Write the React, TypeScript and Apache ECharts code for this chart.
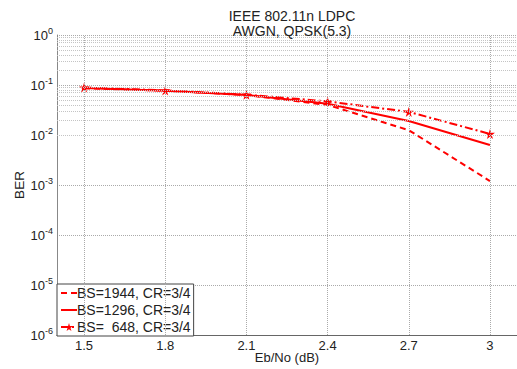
import React, { useEffect, useRef } from "react";
import * as echarts from "echarts";

const ebNo = [1.5, 1.8, 2.1, 2.4, 2.7, 3];
const xTicks = [1.5, 1.8, 2.1, 2.4, 2.7, 3];
const ber1944 = [0.086, 0.077, 0.063, 0.04, 0.0125, 0.0012];
const ber1296 = [0.087, 0.077, 0.063, 0.042, 0.019, 0.0063];
const ber648 = [0.089, 0.078, 0.064, 0.047, 0.029, 0.0105];
const seriesNames = ["BS=1944, CR=3/4", "BS=1296, CR=3/4", "BS=  648, CR=3/4"];
const titleLines = ["IEEE 802.11n LDPC", "AWGN, QPSK(5.3)"];
const decadeExps = [-6, -5, -4, -3, -2, -1];
const minorMult = [2, 3, 4, 5, 6, 7, 8, 9];

const RED = "#ff0000";
const STAR =
  "path://M50,0 L61,35 L98,35 L68,57 L79,91 L50,70 L21,91 L32,57 L2,35 L39,35 Z";

export default function App() {
  const ref = useRef<HTMLDivElement>(null);
  useEffect(() => {
    if (!ref.current) return;
    const chart = echarts.init(ref.current, null, { renderer: "svg" });
    const minorVals: number[] = [];
    decadeExps.forEach((e) => minorMult.forEach((m) => minorVals.push(m * Math.pow(10, e))));
    const pairs = (ys: number[]) => ebNo.map((x, i) => [x, ys[i]]);
    const font = "Liberation Sans, Arial, sans-serif";
    chart.setOption({
      animation: false,
      backgroundColor: "#ffffff",
      title: {
        text: titleLines.join("\n"),
        left: 287,
        textAlign: "center",
        top: 3,
        textStyle: { fontSize: 14, fontWeight: "normal", color: "#222", fontFamily: font, lineHeight: 15 },
      },
      grid: { left: 57, right: 0, top: 35, bottom: 34, outerBoundsMode: "none", containLabel: false },
      xAxis: {
        type: "value",
        min: 1.4,
        max: 3.1,
        interval: 0.1,
        name: "Eb/No (dB)",
        nameLocation: "middle",
        nameGap: 15,
        nameMoveOverlap: false,
        nameTextStyle: { fontSize: 13, color: "#222", fontFamily: font, lineHeight: 14 },
        axisLine: { show: true, lineStyle: { color: "#666", width: 1 } },
        axisTick: { show: false },
        splitLine: { show: false },
        axisLabel: {
          margin: 4,
          fontSize: 13,
          color: "#222",
          fontFamily: font,
          formatter: (v: number) =>
            xTicks.some((t) => Math.abs(t - v) < 1e-6) ? String(Math.round(v * 10) / 10) : "",
        },
      },
      yAxis: {
        type: "log",
        logBase: 10,
        min: 1e-6,
        max: 1,
        interval: 1,
        name: "BER",
        nameLocation: "middle",
        nameGap: 31,
        nameMoveOverlap: false,
        nameTextStyle: { fontSize: 13.5, color: "#222", fontFamily: font },
        axisLine: { show: true, lineStyle: { color: "#888", width: 1 } },
        axisTick: { show: false },
        minorTick: { show: false },
        splitLine: { show: true, lineStyle: { color: "#aaa", type: [1, 1], width: 1 } },
        axisLabel: {
          margin: 4,
          fontSize: 13,
          color: "#222",
          fontFamily: font,
          formatter: (v: number) => `10{s|${Math.round(Math.log10(v))}}`,
          rich: {
            s: { fontSize: 9, verticalAlign: "top", padding: [0, 0, 8, 0], color: "#222", fontFamily: font },
          },
        },
      },
      legend: {
        data: [
          { name: seriesNames[0], itemStyle: { opacity: 0 } },
          { name: seriesNames[1], itemStyle: { opacity: 0 } },
          { name: seriesNames[2] },
        ],
        orient: "vertical",
        left: 57,
        bottom: 33,
        itemWidth: 16,
        itemHeight: 10,
        itemGap: 3,
        padding: [2, 3, 2, 3],
        borderColor: "#444",
        borderWidth: 1,
        backgroundColor: "#fff",
        textStyle: { fontSize: 14, color: "#222", fontFamily: font, padding: [0, 0, 0, -5] },
      },
      series: [
        {
          type: "line",
          name: "__grid",
          data: [],
          silent: true,
          z: 0,
          markLine: {
            silent: true,
            symbol: ["none", "none"],
            label: { show: false },
            animation: false,
            data: [
              ...minorVals.map((v) => ({ yAxis: v, lineStyle: { color: "#c4c4c4", type: [1, 1], width: 1 } })),
              ...xTicks.map((v) => ({ xAxis: v, lineStyle: { color: "#aaa", type: [1, 1], width: 1 } })),
            ],
          },
        },
        {
          type: "line",
          name: seriesNames[0],
          data: pairs(ber1944),
          symbol: "none",
          lineStyle: { color: RED, width: 2, type: [6, 4] },
          itemStyle: { color: RED },
          z: 3,
        },
        {
          type: "line",
          name: seriesNames[1],
          data: pairs(ber1296),
          symbol: "none",
          lineStyle: { color: RED, width: 2, type: "solid" },
          itemStyle: { color: RED },
          z: 3,
        },
        {
          type: "line",
          name: seriesNames[2],
          data: pairs(ber648),
          symbol: STAR,
          symbolSize: 10,
          lineStyle: { color: RED, width: 2, type: [8, 3, 2, 3] },
          itemStyle: { color: RED },
          z: 3,
        },
      ],
    });
    return () => chart.dispose();
  }, []);
  return <div ref={ref} style={{ width: 517, height: 369, position: "absolute", left: 0, top: 0 }} />;
}
